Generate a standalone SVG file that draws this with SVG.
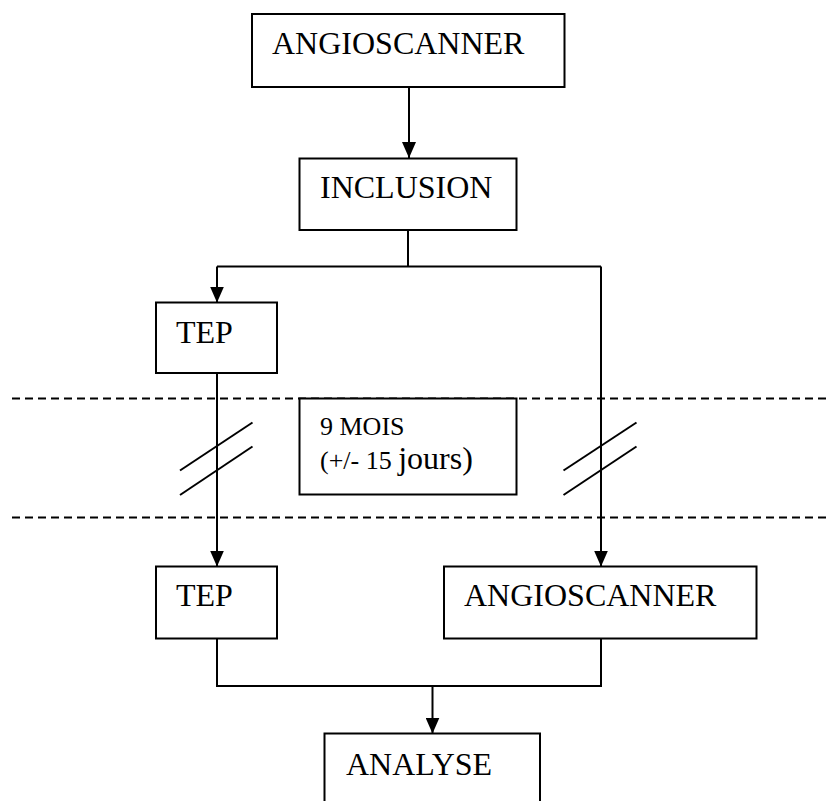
<svg xmlns="http://www.w3.org/2000/svg" width="833" height="801" viewBox="0 0 833 801">
<style>
.box{fill:#fff;stroke:#000;stroke-width:2}
.t{font-family:"Liberation Serif","Times New Roman",serif;font-size:32px;fill:#000}
.ln{fill:none;stroke:#000;stroke-width:2}
.dash{fill:none;stroke:#000;stroke-width:2;stroke-dasharray:8,5}
</style>
<defs>
<marker id="ah" markerUnits="userSpaceOnUse" markerWidth="16" markerHeight="14" viewBox="0 0 16 14" refX="16" refY="7" orient="auto">
<path d="M0,0 L16,7 L0,14 z" fill="#000"/>
</marker>
</defs>
<rect width="833" height="801" fill="#fff"/>
<g id="separators">
<line class="dash" x1="12" y1="398.5" x2="828" y2="398.5"/>
<line class="dash" x1="12" y1="517.5" x2="828" y2="517.5"/>
</g>
<g id="connectors">
<line class="ln" x1="409" y1="87" x2="409" y2="158" marker-end="url(#ah)"/>
<polyline class="ln" points="408,230 408,266.5"/>
<polyline class="ln" points="217,266.5 601,266.5"/>
<line class="ln" x1="217" y1="266.5" x2="217" y2="302.5" marker-end="url(#ah)"/>
<line class="ln" x1="601" y1="266.5" x2="601" y2="566.5" marker-end="url(#ah)"/>
<line class="ln" x1="217" y1="373" x2="217" y2="566.5" marker-end="url(#ah)"/>
<line class="ln" x1="180" y1="470.5" x2="252.5" y2="422.5"/>
<line class="ln" x1="180" y1="495" x2="252.5" y2="446.5"/>
<line class="ln" x1="563.5" y1="470.5" x2="636.5" y2="422.5"/>
<line class="ln" x1="563.5" y1="495" x2="636.5" y2="446.5"/>
<polyline class="ln" points="217,638.5 217,686 601,686 601,638.5"/>
<line class="ln" x1="432.5" y1="686" x2="432.5" y2="733.5" marker-end="url(#ah)"/>
</g>
<g id="angioscanner1">
<rect class="box" x="252" y="14" width="312.5" height="73"/>
<text class="t" x="272" y="54">ANGIOSCANNER</text>
</g>
<g id="inclusion">
<rect class="box" x="299.5" y="158.5" width="217" height="71.5"/>
<text class="t" x="320" y="198">INCLUSION</text>
</g>
<g id="tep1">
<rect class="box" x="156" y="302.5" width="121" height="70.5"/>
<text class="t" x="176" y="343">TEP</text>
</g>
<g id="duree">
<rect class="box" x="299.5" y="398.5" width="217" height="96"/>
<text class="t" x="320" y="435" style="font-size:26px">9 MOIS</text>
<text class="t" x="320" y="468.5"><tspan style="font-size:26px">(+/- 15 </tspan>jours)</text>
</g>
<g id="tep2">
<rect class="box" x="156" y="566.5" width="121" height="72"/>
<text class="t" x="176" y="605.5">TEP</text>
</g>
<g id="angioscanner2">
<rect class="box" x="444" y="566.5" width="312.5" height="72"/>
<text class="t" x="464" y="605.5">ANGIOSCANNER</text>
</g>
<g id="analyse">
<rect class="box" x="324.5" y="733.5" width="215.5" height="80"/>
<text class="t" x="346" y="775">ANALYSE</text>
</g>
</svg>
